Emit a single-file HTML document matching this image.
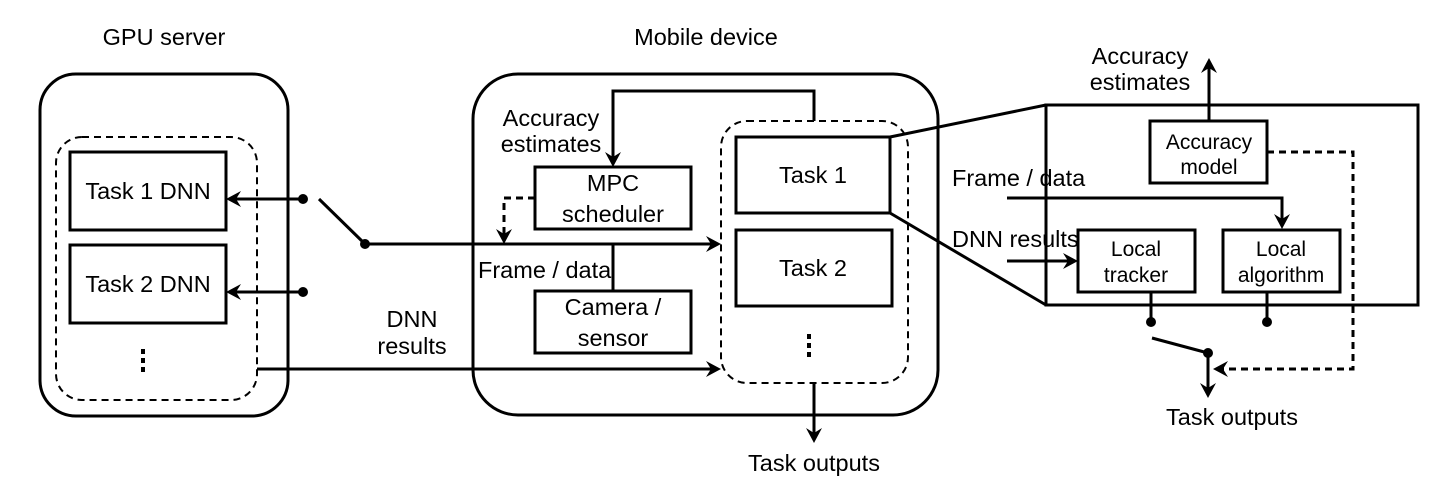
<!DOCTYPE html>
<html><head><style>
html,body{margin:0;padding:0;background:#fff;}
svg{display:block;}
text{font-family:"Liberation Sans",Arial,sans-serif;font-size:23.5px;fill:#000;}
.s{font-size:21px;}
</style></head><body>
<svg width="1444" height="488" viewBox="0 0 1444 488" xmlns="http://www.w3.org/2000/svg">
<g fill="none" stroke="#000" stroke-width="3">
<!-- GPU server -->
<rect x="40" y="74" width="248" height="342" rx="36"/>
<rect x="56" y="137" width="201" height="263" rx="26" stroke-width="2" stroke-dasharray="7,5"/>
<rect x="70" y="152" width="156" height="78"/>
<rect x="70" y="245" width="156" height="78"/>
<line x1="303" y1="199" x2="234" y2="199"/>
<line x1="303" y1="292" x2="234" y2="292"/>
<line x1="319" y1="199" x2="365" y2="244"/>
<line x1="365" y1="244" x2="712" y2="244"/>
<line x1="257" y1="369" x2="712" y2="369"/>
<!-- Mobile -->
<rect x="473" y="74" width="465" height="341" rx="45"/>
<rect x="721" y="121" width="187" height="262" rx="26" stroke-width="2" stroke-dasharray="7,5"/>
<rect x="736" y="137" width="154" height="76"/>
<rect x="736" y="230" width="156" height="76"/>
<rect x="535" y="167" width="156" height="62"/>
<rect x="535" y="291" width="156" height="62"/>
<polyline points="814,121 814,91 613,91 613,159"/>
<line x1="613" y1="244" x2="613" y2="291"/>
<polyline points="535,198 504,198 504,236" stroke-dasharray="7,5"/>
<line x1="814" y1="383" x2="814" y2="435"/>
<!-- zoom lines -->
<line x1="890" y1="137" x2="1046" y2="105"/>
<line x1="890" y1="213" x2="1046" y2="305"/>
<rect x="1046" y="105" width="372" height="200"/>
<rect x="1150" y="121" width="117" height="62"/>
<line x1="1209" y1="121" x2="1209" y2="66"/>
<polyline points="1267,152 1353,152 1353,369 1221,369" stroke-dasharray="7,5"/>
<polyline points="1007,198 1282,198 1282,221"/>
<line x1="1007" y1="261" x2="1070" y2="261"/>
<rect x="1078" y="230" width="117" height="62"/>
<rect x="1223" y="230" width="117" height="62"/>
<line x1="1151" y1="292" x2="1151" y2="322"/>
<line x1="1267" y1="292" x2="1267" y2="322"/>
<line x1="1152" y1="338" x2="1208" y2="353"/>
<line x1="1208" y1="353" x2="1208" y2="390"/>
</g>
<g fill="#000">
<polygon points="226,199 241,191 236,199 241,207"/>
<polygon points="226,292 241,284 236,292 241,300"/>
<polygon points="721,244 706,236 711,244 706,252"/>
<polygon points="721,369 706,361 711,369 706,377"/>
<polygon points="613,167 605,152 613,157 621,152"/>
<polygon points="504,244 496,229 504,234 512,229"/>
<polygon points="814,443 806,428 814,433 822,428"/>
<polygon points="1209,58 1201,73 1209,68 1217,73"/>
<polygon points="1213,369 1228,361 1223,369 1228,377"/>
<polygon points="1282,229 1274,214 1282,219 1290,214"/>
<polygon points="1078,261 1063,253 1068,261 1063,269"/>
<polygon points="1208,398 1200,383 1208,388 1216,383"/>
<circle cx="303" cy="199" r="5"/><circle cx="303" cy="292" r="5"/><circle cx="365" cy="244" r="5"/>
<circle cx="1151" cy="322" r="5"/><circle cx="1267" cy="322" r="5"/><circle cx="1208" cy="353" r="5"/>
<rect x="141" y="349" width="4" height="5"/><rect x="141" y="358" width="4" height="5"/><rect x="141" y="367" width="4" height="5"/>
<rect x="807" y="334" width="4" height="5"/><rect x="807" y="343" width="4" height="5"/><rect x="807" y="352" width="4" height="5"/>
</g>
<g text-anchor="middle">
<text x="164" y="45">GPU server</text>
<text x="706" y="45">Mobile device</text>
<text x="148" y="199">Task 1 DNN</text>
<text x="148" y="292">Task 2 DNN</text>
<text x="412" y="327">DNN</text>
<text x="412" y="354">results</text>
<text x="551" y="126">Accuracy</text>
<text x="551" y="152">estimates</text>
<text x="613" y="191">MPC</text>
<text x="613" y="222">scheduler</text>
<text x="613" y="315">Camera /</text>
<text x="613" y="346">sensor</text>
<text x="813" y="183">Task 1</text>
<text x="813" y="276">Task 2</text>
<text x="814" y="471">Task outputs</text>
<text x="1140" y="64">Accuracy</text>
<text x="1140" y="90">estimates</text>
<text class="s" x="1209" y="149">Accuracy</text>
<text class="s" x="1209" y="174">model</text>
<text class="s" x="1136" y="256">Local</text>
<text class="s" x="1136" y="282">tracker</text>
<text class="s" x="1281" y="256">Local</text>
<text class="s" x="1281" y="282">algorithm</text>
<text x="1232" y="425">Task outputs</text>
</g>
<text x="478" y="278">Frame / data</text>
<text x="952" y="186">Frame / data</text>
<text x="952" y="247">DNN results</text>
</svg>
</body></html>
